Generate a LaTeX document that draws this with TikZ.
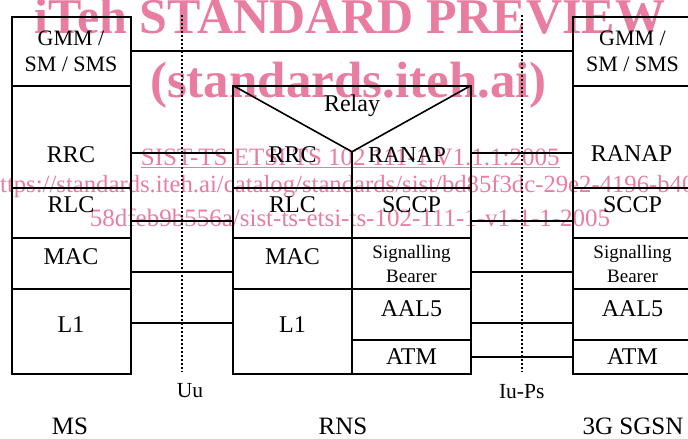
\documentclass[tikz,border=0pt]{standalone}
\usepackage{fontspec}
\setmainfont{Liberation Serif}
\usepackage{xcolor}
\usetikzlibrary{positioning}
\definecolor{wmpink}{RGB}{233,125,160}

\begin{document}
\begin{tikzpicture}[x=1pt, y=-1pt,
    layer/.style={draw, line width=2pt, minimum width=119pt, inner sep=0pt,
                  outer sep=0pt, align=center, font=\fontsize{24}{26}\selectfont},
    lbl/.style={inner sep=0pt, font=\fontsize{24}{26}\selectfont},
    small/.style={font=\fontsize{19}{24}\selectfont},
    link/.style={line width=1.5pt},
    vline/.style={line width=1.6pt},
    iface/.style={line width=2pt, dash pattern=on 2pt off 2pt},
    ifacelbl/.style={inner sep=0pt, font=\fontsize{21.5}{24}\selectfont},
    wmark/.style={inner sep=0pt, text=wmpink, anchor=base}
  ]
    \useasboundingbox (0,0) rectangle (688,439);
    % Watermark (behind the stacks)
    \node[wmark, font=\fontsize{50}{50}\selectfont\bfseries] (wm1) at (350,33) {iTeh STANDARD PREVIEW};
    \node[wmark, font=\fontsize{51}{51}\selectfont\bfseries] (wm2) at (348.5,97) {(standards.iteh.ai)};
    \node[wmark, font=\fontsize{25}{25}\selectfont] (wm3) at (350.3,165) {\underline{SIST-TS ETSI TS 102 111-1 V1.1.1:2005}};
    \node[wmark, anchor=base west, font=\fontsize{24.7}{25}\selectfont] (wm4) at (-12.4,192) {https://standards.iteh.ai/catalog/standards/sist/bd85f3dc-29e2-4196-b40};
    \node[wmark, font=\fontsize{25}{25}\selectfont] (wm5) at (350,226) {58dfeb9b556a/sist-ts-etsi-ts-102-111-1-v1-1-1-2005};
    % MS stack
    \node[layer, minimum height=69pt, font=\fontsize{22}{26}\selectfont] (msgmm) at (71,51) {GMM /\\SM / SMS};
    \node[layer, minimum height=102.5pt, below=0pt of msgmm] (msrrc) {};
    \node[layer, minimum height=50pt, below=0pt of msrrc] (msrlc) {};
    \node[layer, minimum height=51pt, below=0pt of msrlc] (msmac) {};
    \node[layer, minimum height=85pt, below=0pt of msmac] (msl1) {};
    \node[lbl] (tmsrrc) at ([yshift=-18pt]msrrc.center) {RRC};
    \node[lbl] (tmsrlc) at ([yshift=8pt]msrlc.center) {RLC};
    \node[lbl] (tmsmac) at ([yshift=7pt]msmac.center) {MAC};
    \node[lbl] (tmsl1) at ([yshift=6.5pt]msl1.center) {L1};
    % RNS stack
    \node[layer, minimum width=238pt, minimum height=102.5pt] (rnstop) at (352,136.75) {};
    \node[layer, minimum height=50pt, below right=0pt and 0pt of rnstop.south west] (rnsrlc) {};
    \node[layer, minimum height=51pt, below=0pt of rnsrlc] (rnsmac) {};
    \node[layer, minimum height=85pt, below=0pt of rnsmac] (rnsl1) {};
    \node[layer, minimum height=50pt, below left=0pt and 0pt of rnstop.south east] (rnssccp) {};
    \node[layer, small, minimum height=51pt, below=0pt of rnssccp] (rnssig) {Signalling\\Bearer};
    \node[layer, minimum height=51pt, below=0pt of rnssig] (rnsaal) {};
    \node[layer, minimum height=34pt, below=0pt of rnsaal] (rnsatm) {ATM};
    \coordinate (vtip) at ([yshift=-15pt]rnstop.center);
    \draw[vline] (rnstop.north west) -- (vtip) -- (rnstop.north east);
    \draw[layer] (vtip) -- (rnstop.south);
    \node[lbl] (relay) at ([yshift=31pt]rnstop.center) {Relay};
    \node[lbl] (trnsrrc) at ([xshift=-59.5pt, yshift=-18pt]rnstop.center) {RRC};
    \node[lbl, font=\fontsize{23}{26}\selectfont] (trnsranap) at ([xshift=55pt, yshift=-18pt]rnstop.center) {RANAP};
    \node[lbl] (trnsrlc) at ([yshift=8pt]rnsrlc.center) {RLC};
    \node[lbl] (trnsmac) at ([yshift=7pt]rnsmac.center) {MAC};
    \node[lbl] (trnsl1) at ([yshift=6.5pt]rnsl1.center) {L1};
    \node[lbl] (trnssccp) at ([yshift=8pt]rnssccp.center) {SCCP};
    \node[lbl] (trnsaal) at ([yshift=6pt]rnsaal.center) {AAL5};
    % 3G SGSN stack
    \node[layer, minimum height=69pt, font=\fontsize{22}{26}\selectfont] (sggmm) at (632.5,51) {GMM /\\SM / SMS};
    \node[layer, minimum height=102.5pt, below=0pt of sggmm] (sgranap) {};
    \node[layer, minimum height=50pt, below=0pt of sgranap] (sgsccp) {};
    \node[layer, small, minimum height=51pt, below=0pt of sgsccp] (sgsig) {Signalling\\Bearer};
    \node[layer, minimum height=51pt, below=0pt of sgsig] (sgaal) {};
    \node[layer, minimum height=34pt, below=0pt of sgaal] (sgatm) {ATM};
    \node[lbl] (tsgranap) at ([xshift=-1pt, yshift=-17pt]sgranap.center) {RANAP};
    \node[lbl] (tsgsccp) at ([yshift=8pt]sgsccp.center) {SCCP};
    \node[lbl] (tsgaal) at ([yshift=6pt]sgaal.center) {AAL5};
    % Peer links
    \draw[link] (msgmm.east) -- (sggmm.west);
    \draw[link] ([yshift=-16.25pt]msrrc.east) -- ([yshift=-16.25pt]rnstop.west);
    \draw[link] ([yshift=-8pt]msrlc.east) -- ([yshift=-8pt]rnsrlc.west);
    \draw[link] ([yshift=-8.5pt]msmac.east) -- ([yshift=-8.5pt]rnsmac.west);
    \draw[link] ([yshift=8.5pt]msl1.east) -- ([yshift=8.5pt]rnsl1.west);
    \draw[link] ([yshift=-16.25pt]rnstop.east) -- ([yshift=-16.25pt]sgranap.west);
    \draw[link] ([yshift=-8pt]rnssccp.east) -- ([yshift=-8pt]sgsccp.west);
    \draw[link] ([yshift=-8.5pt]rnssig.east) -- ([yshift=-8.5pt]sgsig.west);
    \draw[link] ([yshift=-8.5pt]rnsaal.east) -- ([yshift=-8.5pt]sgaal.west);
    \draw[link] (rnsatm.east) -- (sgatm.west);
    % Interfaces
    \coordinate (uutop) at (181.7,15);
    \coordinate (uubot) at (181.7,372);
    \coordinate (iutop) at (522.3,15);
    \coordinate (iubot) at (522.3,372);
    \draw[iface] (uutop) -- (uubot);
    \draw[iface] (iutop) -- (iubot);
    \node[ifacelbl] (uu) at (190,391) {Uu};
    \node[ifacelbl] (iups) at (521.7,392) {Iu-Ps};
    % Entities
    \node[lbl, font=\fontsize{25}{26}\selectfont] (ms) at (70,426.5) {MS};
    \node[lbl, font=\fontsize{25}{26}\selectfont] (rns) at (343,426.5) {RNS};
    \node[lbl, font=\fontsize{25}{26}\selectfont] (sgsn) at (633,426.5) {3G SGSN};
\end{tikzpicture}
\end{document}
